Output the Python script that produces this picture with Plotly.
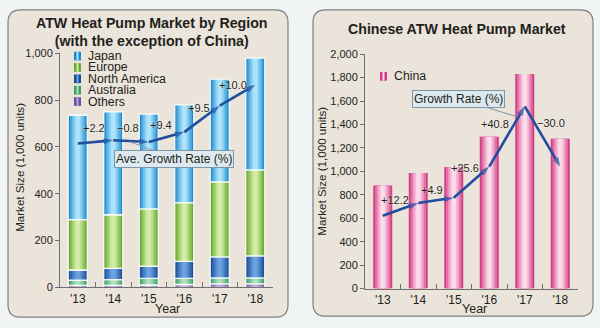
import plotly.graph_objects as go

# ---------------- data ----------------
years = ["'13", "'14", "'15", "'16", "'17", "'18"]

others = [8, 8, 10, 12, 15, 15]
australia = [23, 25, 28, 26, 25, 25]
north_america = [43, 48, 52, 73, 90, 94]
europe = [215, 229, 245, 251, 320, 368]
japan = [446, 439, 405, 417, 439, 477]

region_line = [614, 628, 621, 663, 776, 865]
region_growth = ["+2.2", "\u22120.8", "+9.4", "+9.5", "+10.0"]

china = [880, 987, 1035, 1295, 1830, 1278]
china_line = [621, 730, 775, 1041, 1555, 1040]
china_growth = ["+12.2", "+4.9", "+25.6", "+40.8", "\u221230.0"]

region_names = ["Japan", "Europe", "North America", "Australia", "Others"]

# ---------------- style ----------------
W, H = 600, 328
FONT = "Liberation Sans, Arial, sans-serif"
TXT = "#231f20"
LINE_C = "#1f4e9e"
BAR_W = 0.535

series_style = {
    "Others": ("#6c4d9e", "#bba6dc"),
    "Australia": ("#3f9e66", "#b0e2bd"),
    "North America": ("#1b4c98", "#6aa3e0"),
    "Europe": ("#67a92c", "#d2eca6"),
    "Japan": ("#1b8bd0", "#aee4fb"),
    "China": ("#d43d86", "#fcdbea"),
}


def hex2rgb(h):
    h = h.lstrip("#")
    return tuple(int(h[i:i + 2], 16) for i in (0, 2, 4))


def mix(c1, c2, t):
    a, b = hex2rgb(c1), hex2rgb(c2)
    return "rgb(%d,%d,%d)" % tuple(round(a[i] + (b[i] - a[i]) * t) for i in range(3))


LAYERS = [(1.0, 0.0), (0.82, 0.3), (0.62, 0.55), (0.42, 0.8), (0.22, 1.0)]


def px(x, y):
    return x / W, 1 - y / H


def rounded_rect(x0, y0, x1, y1, r):
    pts = [
        ("M", [(x0 + r, y0)]),
        ("L", [(x1 - r, y0)]),
        ("Q", [(x1, y0), (x1, y0 + r)]),
        ("L", [(x1, y1 - r)]),
        ("Q", [(x1, y1), (x1 - r, y1)]),
        ("L", [(x0 + r, y1)]),
        ("Q", [(x0, y1), (x0, y1 - r)]),
        ("L", [(x0, y0 + r)]),
        ("Q", [(x0, y0), (x0 + r, y0)]),
    ]
    s = ""
    for cmd, ps in pts:
        s += cmd + " " + " ".join("%.5f,%.5f" % px(*p) for p in ps) + " "
    return s + "Z"


fig = go.Figure()

# ---------------- left stacked bars ----------------
stack_order = [("Others", others), ("Australia", australia),
               ("North America", north_america), ("Europe", europe),
               ("Japan", japan)]
base = [0] * len(years)
for name, vals in stack_order:
    edge, hi = series_style[name]
    for frac, t in LAYERS:
        fig.add_trace(go.Bar(
            x=years, y=vals, base=base, width=BAR_W * frac,
            marker=dict(color=mix(edge, hi, t), line=dict(width=0)),
            showlegend=False, hoverinfo="skip", xaxis="x", yaxis="y"))
    fig.add_trace(go.Bar(
        x=years, y=vals, base=base, width=BAR_W,
        marker=dict(color="rgba(0,0,0,0)",
                    line=dict(color="rgba(255,255,255,0.9)", width=1.3)),
        showlegend=False, hoverinfo="skip", xaxis="x", yaxis="y"))
    base = [b + v for b, v in zip(base, vals)]

# ---------------- right bars ----------------
edge, hi = series_style["China"]
for frac, t in LAYERS:
    fig.add_trace(go.Bar(
        x=years, y=china, width=BAR_W * frac,
        marker=dict(color=mix(edge, hi, t), line=dict(width=0)),
        showlegend=False, hoverinfo="skip", xaxis="x2", yaxis="y2"))

# ---------------- growth lines ----------------
for xa, ya, vals in (("x", "y", region_line), ("x2", "y2", china_line)):
    fig.add_trace(go.Scatter(
        x=years, y=vals, mode="lines+markers", xaxis=xa, yaxis=ya,
        line=dict(color=LINE_C, width=2.6),
        marker=dict(symbol="arrow", angleref="previous",
                    size=[0] + [10] * (len(vals) - 1), color=LINE_C,
                    line=dict(width=0)),
        showlegend=False, hoverinfo="skip"))

annotations = []
shapes = []

# growth labels
region_off = [(-2, 14), (-3, 13), (-6, 12), (-3, 11), (-5, 10)]
china_off = [(-5, 9), (-4, 10), (-6, 14), (-12, 12), (8, 14)]
for labels, vals, offs, xa, ya in ((region_growth, region_line, region_off, "x", "y"),
                                   (china_growth, china_line, china_off, "x2", "y2")):
    for i, lab in enumerate(labels):
        dx, dy = offs[i]
        annotations.append(dict(
            x=i + 0.5, y=(vals[i] + vals[i + 1]) / 2, xref=xa, yref=ya,
            text=lab, showarrow=False, xshift=dx, yshift=dy,
            font=dict(family=FONT, size=11, color=TXT,
                      shadow="0px 0px 2px white")))

# call-out boxes
annotations.append(dict(
    x=1.47, y=622, xref="x", yref="y", text="Ave. Growth Rate (%)",
    showarrow=True, ax=44, ay=17, arrowhead=0, arrowwidth=1, arrowcolor="#7d97a8",
    bgcolor="#dde9ef", bordercolor="#7d97a8", borderwidth=1, borderpad=1,
    font=dict(family=FONT, size=12, color=TXT)))
annotations.append(dict(
    x=3.78, y=1466, xref="x2", yref="y2", text="Growth Rate (%)",
    showarrow=True, ax=-58, ay=-18, arrowhead=0, arrowwidth=1, arrowcolor="#7d97a8",
    bgcolor="#dde9ef", bordercolor="#7d97a8", borderwidth=1, borderpad=1,
    font=dict(family=FONT, size=12, color=TXT)))

# titles


def paper_text(x, y, text, size, bold=False, angle=0, xanchor="center"):
    xp, yp = px(x, y)
    annotations.append(dict(
        x=xp, y=yp, xref="paper", yref="paper", text=("<b>%s</b>" % text) if bold else text,
        showarrow=False, xanchor=xanchor, yanchor="middle", textangle=angle,
        font=dict(family=FONT, size=size, color=TXT)))


paper_text(152, 27.5, "ATW Heat Pump Market by Region<br>(with the exception of China)", 14.2, bold=True)
paper_text(457, 24, "Chinese ATW Heat Pump Market", 14.2, bold=True)
paper_text(20, 168, "Market Size (1,000 units)", 11.6, angle=-90)
paper_text(322, 172, "Market Size (1,000 units)", 11.6, angle=-90)
paper_text(167, 314, "Year", 12.5)
paper_text(474, 315, "Year", 12.5)

# legends (drawn manually to match the compact row spacing)


def legend_item(x, y, name):
    edge, hi = series_style[name]
    x0, y0 = px(x, y - 4.5)
    x1, y1 = px(x + 7, y + 4.5)
    shapes.append(dict(type="rect", xref="paper", yref="paper", x0=x0, x1=x1, y0=y0, y1=y1,
                       fillcolor=edge, line=dict(width=0)))
    x0, _ = px(x + 2.5, 0)
    x1, _ = px(x + 4.5, 0)
    shapes.append(dict(type="rect", xref="paper", yref="paper", x0=x0, x1=x1, y0=y0, y1=y1,
                       fillcolor=hi, line=dict(width=0)))
    paper_text(x + 12, y, name, 12.3, xanchor="left")


for k, name in enumerate(region_names):
    legend_item(74, 52 + k * 11.8, name)
legend_item(380, 73, "China")

# panels
for x0, y0, x1, y1 in ((8, 4, 288, 323), (313, 4, 593, 322)):
    shapes.append(dict(type="path", xref="paper", yref="paper", layer="below",
                       path=rounded_rect(x0, y0, x1, y1, 13),
                       fillcolor="#ebe4da", line=dict(color="#7f7f7f", width=1.2)))

axis_common = dict(showline=True, linecolor="#6f6f6f", linewidth=1, showgrid=False,
                   zeroline=False, tickcolor="#6f6f6f")
xfont = dict(family=FONT, size=12, color=TXT)
yfont = dict(family=FONT, size=11, color=TXT)

fig.update_layout(
    width=W, height=H, margin=dict(l=0, r=0, t=0, b=0),
    paper_bgcolor="#f1f4f4", plot_bgcolor="rgba(0,0,0,0)",
    barmode="overlay", showlegend=False,
    annotations=annotations, shapes=shapes,
    xaxis=dict(domain=[60 / W, 273 / W], anchor="y", type="category",
               range=[-0.5, 5.5], ticks="inside", tickson="boundaries", ticklen=5,
               tickfont=xfont, **axis_common),
    yaxis=dict(domain=[1 - 292 / H, 1 - 49 / H], anchor="x", range=[0, 1000], dtick=200,
               tickformat=",", ticks="outside", ticklen=4, tickfont=yfont, **axis_common),
    xaxis2=dict(domain=[365 / W, 578 / W], anchor="y2", type="category",
                range=[-0.5, 5.5], ticks="inside", tickson="boundaries", ticklen=5,
                tickfont=xfont, **axis_common),
    yaxis2=dict(domain=[1 - 293.3 / H, 1 - 50 / H], anchor="x2", range=[0, 2000], dtick=200,
                tickformat=",", ticks="outside", ticklen=4, tickfont=yfont, **axis_common),
)

fig.write_html("out.html")
